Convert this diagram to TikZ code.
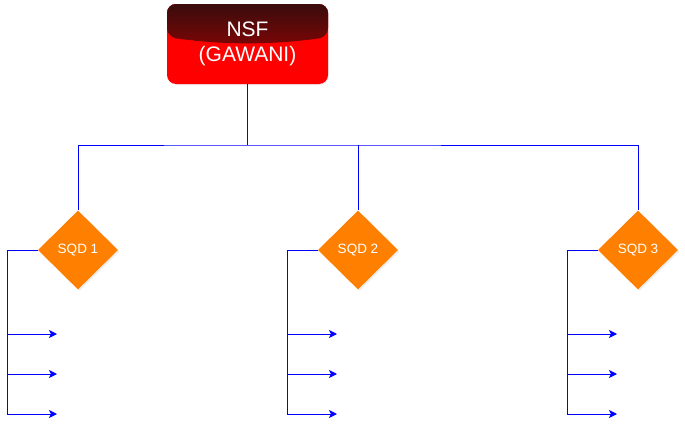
\documentclass[tikz,border=0pt]{standalone}
\usepackage{fontspec}
\setmainfont{Liberation Sans}
\usepackage{tikz}
\usetikzlibrary{shapes,arrows.meta,positioning,calc,shadows}

\definecolor{boxred}{HTML}{FF0000}
\definecolor{darktop}{HTML}{3A0C0C}
\definecolor{darkbot}{HTML}{B80000}
\definecolor{sqdorange}{HTML}{FF8000}
\definecolor{linkblue}{HTML}{0000FF}

\tikzset{
  chief/.style={rounded corners=9pt, fill=boxred, text=white, align=center,
    minimum width=161pt, minimum height=80pt, inner sep=0pt,
    font=\fontsize{21}{25}\selectfont,
    drop shadow={opacity=0.12, shadow xshift=1pt, shadow yshift=-1pt},
    path picture={
      \fill[top color=darktop, bottom color=darkbot]
        (path picture bounding box.north west) -- (path picture bounding box.north east)
        -- ++(0,-33pt) .. controls ++(-54pt,-8pt) and ++(54pt,-8pt) .. ++(-161pt,0) -- cycle;
    }},
  squad/.style={diamond, fill=sqdorange, text=white, inner sep=0pt,
    minimum width=80pt, minimum height=79pt, font=\fontsize{13.5}{16}\selectfont,
    drop shadow={opacity=0.15, shadow xshift=1.5pt, shadow yshift=-1.5pt}},
  link/.style={draw=linkblue, line width=1pt},
  flow/.style={link, -{Stealth[length=8pt,width=8pt,inset=2pt]}}
}

\begin{document}
\begin{tikzpicture}[x=1pt, y=-1pt]
  \useasboundingbox (0,0) rectangle (685,423);

  \node[chief] (nsf) at (247.5,44) {NSF\\(GAWANI)};
  \node[squad] (sqd1) at (78,250) {SQD 1};
  \node[squad] (sqd2) at (358,250) {SQD 2};
  \node[squad] (sqd3) at (638,250) {SQD 3};

  \coordinate (bus) at (247.5,145);
  \coordinate (s1) at (7,250);
  \coordinate (s2) at (287,250);
  \coordinate (s3) at (567,250);
  \coordinate (a1) at (57,334);
  \coordinate (b1) at (57,374);
  \coordinate (c1) at (57,414);
  \coordinate (a2) at (337,334);
  \coordinate (b2) at (337,374);
  \coordinate (c2) at (337,414);
  \coordinate (a3) at (617,334);
  \coordinate (b3) at (617,374);
  \coordinate (c3) at (617,414);

  % chief to squads
  \draw[link] (nsf.south) -- (bus);
  \draw[link] (sqd1.north) |- (bus) -| (sqd3.north);
  \draw[link] (sqd2.north) -- (sqd2.north |- bus);

  % squad branches
  \draw[flow] (sqd1.west) -- (s1) |- (c1);
  \draw[flow] (s1 |- a1) -- (a1);
  \draw[flow] (s1 |- b1) -- (b1);

  \draw[flow] (sqd2.west) -- (s2) |- (c2);
  \draw[flow] (s2 |- a2) -- (a2);
  \draw[flow] (s2 |- b2) -- (b2);

  \draw[flow] (sqd3.west) -- (s3) |- (c3);
  \draw[flow] (s3 |- a3) -- (a3);
  \draw[flow] (s3 |- b3) -- (b3);
\end{tikzpicture}
\end{document}
